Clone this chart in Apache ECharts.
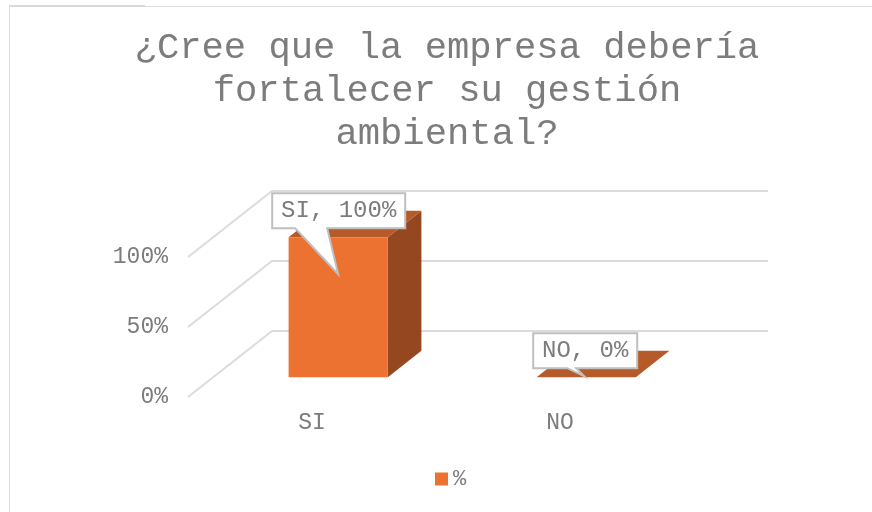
<!DOCTYPE html>
<html>
<head>
<meta charset="utf-8">
<title>Gestión ambiental</title>
<style>
  html, body { margin: 0; padding: 0; background: #fff; }
  #chart { width: 872px; height: 512px; }
</style>
<script src="https://cdn.jsdelivr.net/npm/echarts@6/dist/echarts.min.js"></script>
</head>
<body>
<div id="chart"></div>
<script>
const titleText = '¿Cree que la empresa debería\nfortalecer su gestión\nambiental?';
const categories = ['SI', 'NO'];
const percentValues = [100, 0];
const yTicks = [0, 50, 100];
const seriesName = '%';

const fontName = 'Liberation Mono';
const textColor = '#7c7c7c';
const depthX = 84, depthY = -66;     // offset from the front of the floor to the back wall
const barStart = 0.3, barEnd = 0.7;  // where the bar sits in that depth

// callout box and tail, relative to the top centre of the bar front
const callouts = [
  {box: [-66, -44, 133, 35], tail: [[-43, -9], [0, 37], [-11, -9]]},
  {box: [-53, -44, 104, 35], tail: [[-19, -9], [-2, -1], [-10, -9]]}
];

const myChart = echarts.init(document.getElementById('chart'), null, {renderer: 'canvas'});

function renderWall(params, api) {
  const cs = params.coordSys;
  const y = api.coord([0, api.value(1)])[1];
  return {
    type: 'polyline',
    shape: {points: [[cs.x, y], [cs.x + depthX, y + depthY], [cs.x + cs.width + depthX, y + depthY]]},
    style: {stroke: '#dcdcdc', lineWidth: 2, fill: null},
    silent: true
  };
}

function barShape(params, api) {
  const base = api.coord([api.value(0), 0]);
  const top = api.coord([api.value(0), api.value(1)]);
  const w = api.size([1, 0])[0] * 0.4;
  const dx = depthX * barStart + 1, dy = depthY * barStart;
  return {
    left: base[0] + dx - w / 2,
    right: base[0] + dx + w / 2,
    bottom: base[1] + dy,
    top: top[1] + dy,
    backX: depthX * (barEnd - barStart),
    backY: depthY * (barEnd - barStart)
  };
}

function renderBar(params, api) {
  const s = barShape(params, api);
  const children = [
    {
      type: 'polygon',
      shape: {points: [[s.right, s.top], [s.right + s.backX, s.top + s.backY], [s.right + s.backX, s.bottom + s.backY], [s.right, s.bottom]]},
      style: {fill: '#95481f'}
    },
    {
      type: 'polygon',
      shape: {points: [[s.left, s.top], [s.left + s.backX, s.top + s.backY], [s.right + s.backX, s.top + s.backY], [s.right, s.top]]},
      style: {fill: '#b55a28'}
    },
    {
      type: 'rect',
      shape: {x: s.left, y: s.top, width: s.right - s.left, height: s.bottom - s.top},
      style: {fill: '#eb7231'}
    }
  ];
  return {type: 'group', children: children};
}

function renderCallout(params, api) {
  const s = barShape(params, api);
  const c = callouts[params.dataIndex];
  const ox = (s.left + s.right) / 2, oy = s.top;
  const x = ox + c.box[0], y = oy + c.box[1], w = c.box[2], h = c.box[3];
  const tail = c.tail.map(p => [ox + p[0], oy + p[1]]);
  const label = categories[params.dataIndex] + ', ' + percentValues[params.dataIndex] + '%';
  return {
    type: 'group',
    children: [
      {
        type: 'polygon',
        shape: {points: [[x, y], [x + w, y], [x + w, y + h]].concat(tail.slice().reverse(), [[x, y + h]])},
        style: {fill: '#fff', stroke: '#bfbfbf', lineWidth: 2}
      },
      {
        type: 'text',
        style: {
          x: x + w / 2, y: y + h / 2, text: label, align: 'center', verticalAlign: 'middle',
          font: '24px "' + fontName + '"', fill: textColor
        }
      }
    ]
  };
}

const barData = categories.map((c, i) => [i, percentValues[i]]);

myChart.setOption({
  animation: false,
  backgroundColor: '#fff',
  title: {
    text: titleText,
    left: 442,
    top: 22,
    textAlign: 'center',
    textStyle: {fontFamily: fontName, fontSize: 37.2, fontWeight: 'normal', color: textColor, lineHeight: 43}
  },
  legend: {
    data: [seriesName],
    left: 430,
    top: 463,
    itemWidth: 13,
    itemHeight: 13,
    icon: 'rect',
    textStyle: {fontFamily: fontName, fontSize: 22, color: textColor}
  },
  grid: {left: 188, width: 496, top: 257, height: 140},
  xAxis: {
    type: 'category',
    data: categories,
    axisLine: {show: false},
    axisTick: {show: false},
    axisLabel: {fontFamily: fontName, fontSize: 23, color: textColor, margin: 14}
  },
  yAxis: {
    type: 'value',
    min: 0,
    max: 100,
    interval: 50,
    axisLine: {show: false},
    axisTick: {show: false},
    splitLine: {show: false},
    axisLabel: {fontFamily: fontName, fontSize: 23, color: textColor, margin: 20, formatter: '{value}%', padding: [0, 0, 14, 0]}
  },
  graphic: [
    {type: 'rect', shape: {x: 9, y: 6, width: 863, height: 1}, style: {fill: '#dedede'}, silent: true},
    {type: 'rect', shape: {x: 9, y: 5, width: 136, height: 2}, style: {fill: '#d9d9d9'}, silent: true},
    {type: 'rect', shape: {x: 9, y: 6, width: 1, height: 506}, style: {fill: '#d9d9d9'}, silent: true}
  ],
  series: [
    {type: 'custom', name: 'paredes', renderItem: renderWall, data: yTicks.map(v => [0, v]), silent: true, z: 1},
    {type: 'custom', name: seriesName, renderItem: renderBar, data: barData, itemStyle: {color: '#eb7231'}, z: 2},
    {type: 'custom', name: 'etiquetas', renderItem: renderCallout, data: barData, silent: true, z: 3}
  ]
});
</script>
</body>
</html>
